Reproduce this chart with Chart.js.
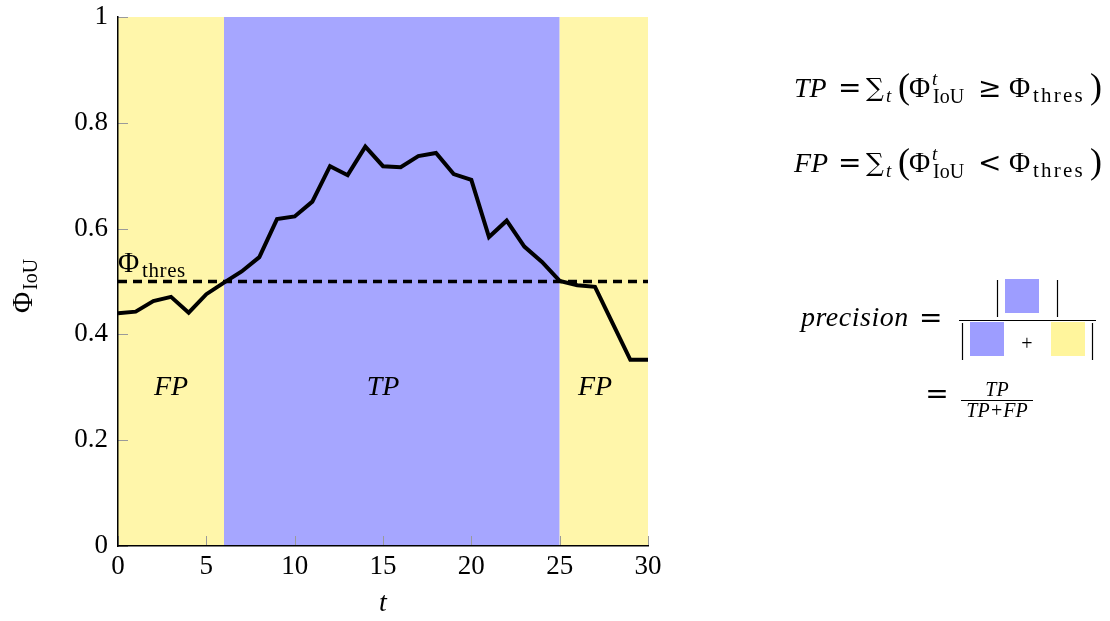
<!DOCTYPE html>
<html>
<head>
<meta charset="utf-8">
<script src="https://cdn.jsdelivr.net/npm/chart.js@4/dist/chart.umd.min.js"></script>
<style>
  html, body { margin: 0; padding: 0; background: #fff; }
</style>
</head>
<body>
<canvas id="mainChart" width="1110" height="621"></canvas>
<script>
// --- data ---
const tValues = [0,1,2,3,4,5,6,7,8,9,10,11,12,13,14,15,16,17,18,19,20,21,22,23,24,25,26,27,28,29,30];
const iouValues = [0.440,0.443,0.463,0.471,0.441,0.476,0.498,0.519,0.546,0.618,0.623,0.651,0.718,0.701,0.755,0.718,
                   0.716,0.737,0.743,0.703,0.692,0.584,0.615,0.566,0.537,0.501,0.493,0.490,0.421,0.352,0.352];
const threshold = 0.5;
const bandStart = [0, 6, 25];
const bandEnd = [6, 25, 30];
const bandLabels = ['FP', 'TP', 'FP'];
const bandLabelT = [3, 15, 27];
const bandLabelValue = 0.3;
const xTicks = [0, 5, 10, 15, 20, 25, 30];
const yTicks = [0, 0.2, 0.4, 0.6, 0.8, 1];

const FONT = '"Liberation Serif", "Times New Roman", serif';
const OPFONT = '"DejaVu Serif", serif';
const YELLOW = '#fff6aa';
const BLUE = '#a6a6ff';
const bandColors = [YELLOW, BLUE, YELLOW];

function fnt(size, italic, fam) {
    return (italic ? 'italic ' : '') + size + 'px ' + (fam || FONT);
}

// draws text pieces; x = absolute left position of each piece
function drawPieces(ctx, y, parts) {
    parts.forEach(p => {
        ctx.font = fnt(p.s, p.i, p.f);
        ctx.letterSpacing = (p.ls || 0) + 'px';
        ctx.fillText(p.t, p.x, y + (p.dy || 0));
    });
    ctx.letterSpacing = '0px';
}

const decorPlugin = {
    id: 'decor',
    beforeDraw(chart) {
        const ctx = chart.ctx, xs = chart.scales.x, ys = chart.scales.y, a = chart.chartArea;
        ctx.save();
        for (let i = 0; i < bandStart.length; i++) {
            const x1 = xs.getPixelForValue(bandStart[i]);
            const x2 = xs.getPixelForValue(bandEnd[i]);
            ctx.fillStyle = bandColors[i];
            ctx.fillRect(x1, a.top, x2 - x1, a.bottom - a.top);
        }
        // inward tick marks
        ctx.strokeStyle = '#9a9a9a';
        ctx.lineWidth = 1;
        xTicks.forEach(v => {
            const px = Math.round(xs.getPixelForValue(v)) + 0.5;
            ctx.beginPath(); ctx.moveTo(px, a.bottom); ctx.lineTo(px, a.bottom - 10); ctx.stroke();
        });
        yTicks.forEach(v => {
            const py = Math.round(ys.getPixelForValue(v)) + 0.5;
            ctx.beginPath(); ctx.moveTo(a.left, py); ctx.lineTo(a.left + 10, py); ctx.stroke();
        });
        // band labels
        ctx.fillStyle = '#000';
        ctx.textAlign = 'center';
        ctx.textBaseline = 'middle';
        ctx.font = fnt(28, true);
        for (let i = 0; i < bandLabels.length; i++) {
            ctx.fillText(bandLabels[i], xs.getPixelForValue(bandLabelT[i]), ys.getPixelForValue(bandLabelValue));
        }
        ctx.restore();
    },
    afterDraw(chart) {
        const ctx = chart.ctx, xs = chart.scales.x, ys = chart.scales.y, a = chart.chartArea;
        ctx.save();
        ctx.fillStyle = '#000';
        ctx.textBaseline = 'alphabetic';
        ctx.textAlign = 'left';

        // Φthres label over the dashed line
        const ty = ys.getPixelForValue(threshold);
        drawPieces(ctx, ty - 10, [{t: 'Φ', s: 29, x: a.left}, {t: 'thres', s: 21, x: a.left + 24, dy: 5, ls: 0.6}]);

        // axis titles
        ctx.textAlign = 'center';
        ctx.font = fnt(28, true);
        ctx.fillText('t', (a.left + a.right) / 2, 611);

        ctx.save();
        ctx.translate(32, 282);
        ctx.rotate(-Math.PI / 2);
        ctx.textAlign = 'left';
        drawPieces(ctx, 0, [{t: 'Φ', s: 29, x: -31}, {t: 'IoU', s: 20, x: -8, dy: 5}]);
        ctx.restore();

        // formulas on the right
        ctx.textAlign = 'left';
        const rowTP = [
            {t: 'TP', s: 28, i: true, x: 794},
            {t: '=', s: 28, f: OPFONT, x: 838},
            {t: '∑', s: 25, f: OPFONT, x: 866, dy: -1},
            {t: 't', s: 19, i: true, x: 886, dy: 5},
            {t: '(', s: 36, x: 898, dy: 1},
            {t: 'Φ', s: 29, x: 909},
            {t: 't', s: 19, i: true, x: 932, dy: -12},
            {t: 'IoU', s: 20, x: 933, dy: 6},
            {t: '≥', s: 28, f: OPFONT, x: 978},
            {t: 'Φ', s: 29, x: 1009},
            {t: 'thres', s: 21, x: 1033, dy: 5, ls: 2.2},
            {t: ')', s: 36, x: 1090, dy: 1}
        ];
        drawPieces(ctx, 97, rowTP);
        const rowFP = rowTP.map(p => Object.assign({}, p));
        rowFP[0].t = 'FP';
        rowFP[8].t = '<';
        drawPieces(ctx, 172, rowFP);

        // precision = |blue| / |blue + yellow|
        ctx.font = fnt(28, true);
        ctx.letterSpacing = '0.5px';
        ctx.fillText('precision', 801, 326);
        ctx.letterSpacing = '0px';
        ctx.font = fnt(28, false, OPFONT);
        ctx.fillText('=', 919, 327);

        ctx.strokeStyle = '#000';
        ctx.lineWidth = 1.2;
        ctx.beginPath(); ctx.moveTo(959, 320.5); ctx.lineTo(1096, 320.5); ctx.stroke();
        [[997, 280, 317], [1057, 280, 317], [962, 323, 360], [1092, 323, 360]].forEach(b => {
            ctx.beginPath(); ctx.moveTo(b[0] + 0.5, b[1]); ctx.lineTo(b[0] + 0.5, b[2]); ctx.stroke();
        });
        ctx.fillStyle = '#9d9dff';
        ctx.fillRect(1005, 279, 34, 34);
        ctx.fillRect(970, 322, 34, 34);
        ctx.fillStyle = '#fff59c';
        ctx.fillRect(1051, 322, 34, 34);
        ctx.fillStyle = '#000';
        ctx.textAlign = 'center';
        ctx.font = fnt(20);
        ctx.fillText('+', 1027, 350);

        ctx.font = fnt(28, false, OPFONT);
        ctx.fillText('=', 937, 403);
        ctx.font = fnt(20, true);
        ctx.fillText('TP', 997, 396);
        ctx.fillText('TP+FP', 997, 417);
        ctx.beginPath(); ctx.moveTo(961, 400.5); ctx.lineTo(1033, 400.5); ctx.stroke();
        ctx.restore();
    }
};

const canvas = document.getElementById('mainChart');
new Chart(canvas, {
    type: 'line',
    data: {
        datasets: [
            {
                data: tValues.map((t, i) => ({x: t, y: iouValues[i]})),
                borderColor: '#000',
                borderWidth: 4,
                pointRadius: 0,
                tension: 0,
                borderJoinStyle: 'miter',
                fill: false
            },
            {
                data: [{x: tValues[0], y: threshold}, {x: tValues[tValues.length - 1], y: threshold}],
                borderColor: '#000',
                borderWidth: 3.5,
                borderDash: [9, 6],
                pointRadius: 0,
                fill: false
            }
        ]
    },
    options: {
        responsive: false,
        animation: false,
        events: [],
        layout: { padding: { top: 17, right: 462, left: 0, bottom: 0 } },
        plugins: { legend: { display: false }, tooltip: { enabled: false } },
        scales: {
            x: {
                type: 'linear',
                min: 0,
                max: 30,
                afterFit(s) { s.height = 75; s.paddingLeft = 0; s.paddingRight = 0; },
                afterBuildTicks(s) { s.ticks = xTicks.map(v => ({value: v})); },
                grid: { display: false, drawTicks: false },
                border: { display: true, color: '#000', width: 1.5 },
                ticks: { color: '#000', padding: 5, maxRotation: 0, font: { family: FONT, size: 27 } }
            },
            y: {
                type: 'linear',
                min: 0,
                max: 1,
                afterFit(s) { s.width = 118; s.paddingTop = 0; s.paddingBottom = 0; },
                afterBuildTicks(s) { s.ticks = yTicks.map(v => ({value: v})); },
                grid: { display: false, drawTicks: false },
                border: { display: true, color: '#000', width: 1.5 },
                ticks: {
                    color: '#000', padding: 10, font: { family: FONT, size: 27 },
                    callback: v => String(+v.toFixed(1))
                }
            }
        }
    },
    plugins: [decorPlugin]
});
</script>
</body>
</html>
